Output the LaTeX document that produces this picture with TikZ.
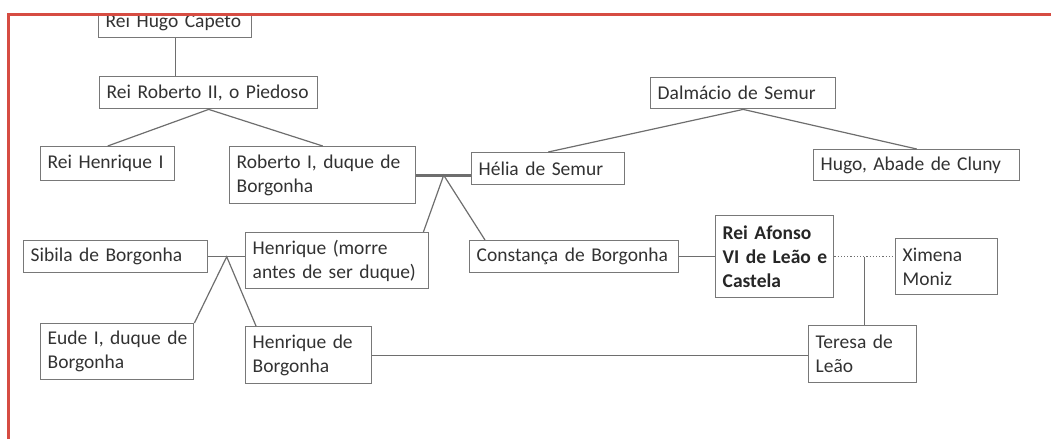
\documentclass[tikz,border=0pt]{standalone}
\usepackage{fontspec}
\setmainfont{Carlito}
\usepackage{tikz}
\usetikzlibrary{calc}
\definecolor{frameColor}{RGB}{214, 76, 66}
\definecolor{boxColor}{RGB}{120, 120, 120}
\definecolor{lineColor}{RGB}{110, 110, 110}
\definecolor{textColor}{RGB}{50, 50, 50}

\begin{document}
\begin{tikzpicture}[
  x=1pt, y=-1pt,
  person/.style={draw=boxColor, line width=1.4pt, fill=white, anchor=north west,
    align=left, inner xsep=7pt, inner ysep=2pt, text=textColor,
    font=\fontsize{19.5}{24}\selectfont},
  king/.style={person, text=black!85, font=\fontsize{19.5}{24}\selectfont\bfseries},
  link/.style={draw=lineColor, line width=1.2pt},
  marriage/.style={link, line width=3pt},
  affair/.style={link, dotted}
]
\useasboundingbox (0,0) rectangle (1051,439);
\clip (0,13) rectangle (1051,439);

\node[person, text width=139pt, minimum height=30pt] (capeto) at (98,7) {Rei Hugo Capeto};
\node[person, text width=204pt, minimum height=32pt] (roberto2) at (99,76) {Rei Roberto II, o Piedoso};
\node[person, text width=120pt, minimum height=34pt] (henrique1) at (40,146) {Rei Henrique I};
\node[person, text width=172pt, minimum height=57pt] (roberto1) at (229,146) {Roberto I, duque~de\\Borgonha};
\node[person, text width=139pt, minimum height=32pt] (helia) at (471,152) {Hélia de Semur};
\node[person, text width=171pt, minimum height=31pt] (dalmacio) at (650,77) {Dalmácio de Semur};
\node[person, text width=192pt, minimum height=31pt] (hugo) at (813,149) {Hugo, Abade de Cluny};
\node[person, text width=169pt, minimum height=56pt] (henrique) at (245,232) {Henrique~(morre\\antes~de~ser~duque)};
\node[person, text width=170pt, minimum height=32pt] (sibila) at (23,240) {Sibila de Borgonha};
\node[person, text width=195pt, minimum height=32pt] (constanca) at (469,240) {Constança~de~Borgonha};
\node[king, text width=104pt, minimum height=82pt] (afonso) at (715,215) {Rei~Afonso\\VI~de~Leão~e\\Castela};
\node[person, text width=88pt, minimum height=56pt] (ximena) at (895,238) {Ximena\\Moniz};
\node[person, text width=139pt, minimum height=56pt] (eude) at (40,323) {Eude~I,~duque~de\\Borgonha};
\node[person, text width=112pt, minimum height=57pt] (hborgonha) at (245,326) {Henrique~de\\Borgonha};
\node[person, text width=94pt, minimum height=57pt] (teresa) at (808,325) {Teresa~de\\Leão};

\draw[link] (capeto.south) -- (capeto.south |- roberto2.north);
\draw[link] (henrique1.north) -- (roberto2.south) -- (roberto1.north);
\draw[link] (helia.north) -- (dalmacio.south) -- (hugo.north);

\draw[marriage] (roberto1.east) -- (roberto1.east -| helia.west);
\coordinate (c1) at ($(roberto1.east)!0.5!(roberto1.east -| helia.west)$);
\draw[link] ([xshift=-6pt]henrique.north east) -- (c1) -- ([xshift=16pt]constanca.north west);

\draw[link] (sibila.east) -- (sibila.east -| henrique.west);
\coordinate (c2) at ($(sibila.east)!0.5!(sibila.east -| henrique.west)$);
\draw[link] (eude.north east) -- (c2) -- ([xshift=11pt]hborgonha.north west);

\draw[link] (constanca.east) -- (afonso.west);
\draw[affair] (afonso.east) -- (afonso.east -| ximena.west);
\coordinate (c3) at ($(afonso.east)!0.5!(afonso.east -| ximena.west)$);
\draw[link] (c3) -- (c3 |- teresa.north);

\draw[link] (hborgonha.east) -- (hborgonha.east -| teresa.west);

\draw[frameColor, line width=3pt] (8.5,439) -- (8.5,14.5) -- (1051,14.5);
\end{tikzpicture}
\end{document}
